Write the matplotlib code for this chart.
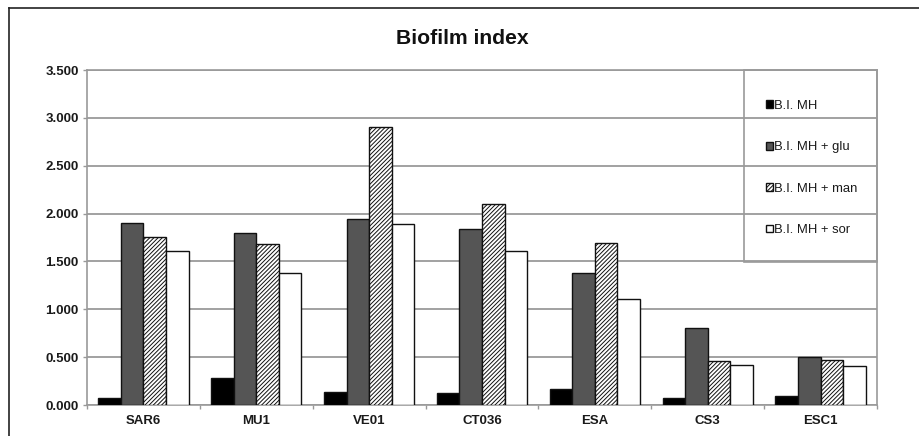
import matplotlib
matplotlib.use("Agg")
import matplotlib.pyplot as plt
import numpy as np
from matplotlib.patches import Rectangle
from matplotlib.lines import Line2D
from matplotlib.ticker import FixedLocator, FuncFormatter

plt.rcParams['font.family'] = ['Liberation Sans', 'DejaVu Sans']
plt.rcParams['hatch.linewidth'] = 0.7
plt.rcParams['hatch.color'] = '#222222'

strains = ["SAR6", "MU1", "VE01", "CT036", "ESA", "CS3", "ESC1"]
series_labels = ["B.I. MH", "B.I. MH + glu", "B.I. MH + man", "B.I. MH + sor"]
bi_mh = [0.076, 0.279, 0.139, 0.125, 0.164, 0.073, 0.094]
bi_mh_glu = [1.905, 1.794, 1.943, 1.842, 1.376, 0.808, 0.505]
bi_mh_man = [1.759, 1.679, 2.908, 2.103, 1.690, 0.463, 0.474]
bi_mh_sor = [1.609, 1.376, 1.888, 1.609, 1.108, 0.414, 0.408]
y_ticks = [0.0, 0.5, 1.0, 1.5, 2.0, 2.5, 3.0, 3.5]

series = [bi_mh, bi_mh_glu, bi_mh_man, bi_mh_sor]
faces = ["#000000", "#555555", "#ffffff", "#ffffff"]
hatches = [None, None, "////////", None]

fig = plt.figure(figsize=(9.2, 4.36), dpi=100)
W, H = 920, 436
ax = fig.add_axes([87 / W, (H - 405) / H, 790 / W, 335 / H])

x = np.arange(len(strains))
width = 0.2
offsets = [-0.3, -0.1, 0.1, 0.3]
for vals, off, fc, ht, lab in zip(series, offsets, faces, hatches, series_labels):
    ax.bar(x + off, vals, width, color=fc, edgecolor="#111111", linewidth=1.0,
           hatch=ht, label=lab, zorder=3)

ax.set_xlim(-0.5, len(strains) - 0.5)
ax.set_ylim(0, 3.5)
ax.set_yticks(y_ticks)
ax.yaxis.set_major_formatter(FuncFormatter(lambda v, p: f"{v:.3f}"))
ax.set_xticks(x)
ax.set_xticklabels(strains)
ax.xaxis.set_minor_locator(FixedLocator(np.arange(-0.5, len(strains), 1.0)))
ax.tick_params(axis='x', which='major', length=0, pad=7, labelsize=9.5, labelcolor='#1a1a1a')
ax.tick_params(axis='x', which='minor', length=3, color='#999999', width=1)
ax.tick_params(axis='y', length=3, color='#999999', width=1, pad=3, labelsize=9.5,
               labelcolor='#1a1a1a')
for lab in ax.get_xticklabels() + ax.get_yticklabels():
    lab.set_fontweight('bold')

ax.grid(axis='y', color='#9a9a9a', linewidth=1.3, zorder=0)
ax.set_axisbelow(True)
for sp in ax.spines.values():
    sp.set_color('#9a9a9a')
    sp.set_linewidth(1.2)

# Legend box drawn in axes coordinates over the plot area
x0 = (744 - 87) / 790
y0 = (405 - 262) / 335
ax.add_patch(Rectangle((x0, y0), 1 - x0, 1 - y0, transform=ax.transAxes,
                       fill=False, edgecolor='#9a9a9a', linewidth=1.2, zorder=4,
                       clip_on=False))
leg = ax.legend(loc='center left', bbox_to_anchor=((759 - 87) / 790, (405 - 168) / 335),
                frameon=False, fontsize=9.4, handlelength=0.55, handleheight=0.55,
                handletextpad=0.12, labelspacing=2.25, borderpad=0)
for t in leg.get_texts():
    t.set_color('#1a1a1a')

fig.text(462 / W, 1 - 39 / H, "Biofilm index", ha='center', va='center',
         fontsize=15.2, fontweight='bold', color='#111111')

# outer frame
fig.add_artist(Line2D([9 / W, 9 / W], [0, 1 - 8 / H], transform=fig.transFigure,
                      color='#222222', linewidth=1.2))
fig.add_artist(Line2D([9 / W, 1], [1 - 8 / H, 1 - 8 / H], transform=fig.transFigure,
                      color='#222222', linewidth=1.2))

fig.savefig("out.png", dpi=100)
